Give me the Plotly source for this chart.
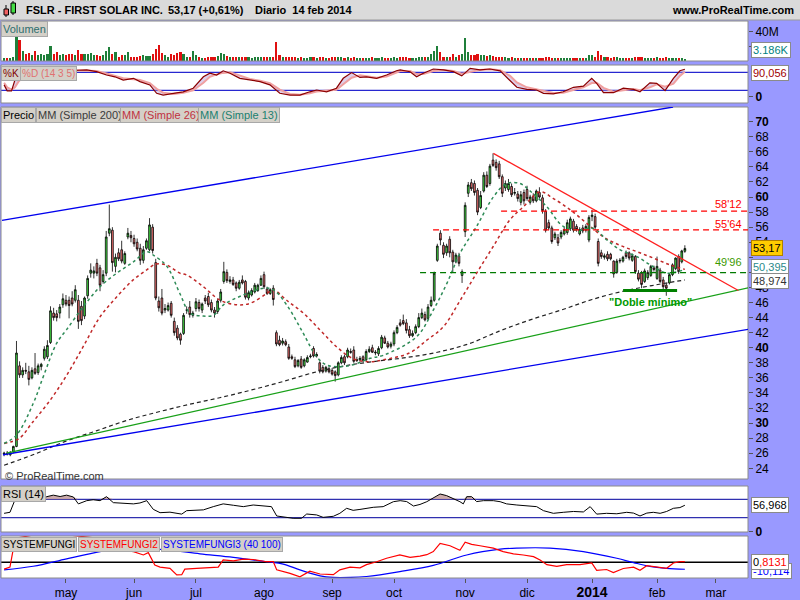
import plotly.graph_objects as go

# ---------------- DATA ----------------
open_ = [25.9, 26.0, 25.8, 26.2, 26.9, 37.6, 36.4, 37.0, 36.8, 36.0,
         37.2, 36.7, 37.5, 38.6, 38.8, 40.7, 44.6, 44.5, 44.6, 45.7,
         46.3, 46.3, 46.6, 46.3, 46.3, 45.5, 44.2, 46.9, 49.9, 49.9,
         51.2, 50.6, 48.8, 49.9, 55.2, 55.6, 50.8, 52.6, 53.0, 51.2,
         54.7, 54.9, 54.5, 54.0, 53.2, 51.6, 53.2, 53.0, 56.0, 51.3,
         46.2, 46.6, 45.0, 45.0, 45.9, 43.5, 42.6, 41.8, 41.9, 45.0,
         45.4, 44.3, 45.2, 46.0, 45.0, 46.6, 46.8, 46.0, 45.0, 44.8,
         46.3, 48.8, 50.0, 48.8, 49.0, 48.6, 47.9, 49.0, 48.8, 46.6,
         47.0, 47.4, 47.6, 48.3, 49.7, 47.8, 47.2, 47.9, 42.0, 41.0,
         40.6, 40.8, 40.1, 38.8, 38.4, 37.6, 38.5, 37.6, 38.1, 38.8,
         39.9, 38.9, 38.0, 37.4, 36.9, 37.2, 37.0, 36.8, 36.4, 38.0,
         38.8, 38.8, 39.5, 39.7, 38.3, 38.4, 38.8, 38.4, 39.5, 40.0,
         39.3, 39.2, 40.0, 41.3, 40.6, 40.2, 40.5, 42.0, 43.3, 43.6,
         43.3, 42.4, 41.6, 42.0, 42.8, 44.0, 44.4, 43.9, 45.6, 46.3,
         51.6, 55.2, 53.6, 52.6, 54.4, 52.7, 51.4, 52.2, 49.6, 55.4,
         60.5, 61.9, 61.8, 60.9, 58.6, 60.8, 62.9, 61.8, 64.9, 64.6,
         64.4, 62.7, 61.2, 61.0, 61.4, 60.5, 60.4, 59.3, 60.6, 61.0,
         59.3, 60.1, 59.5, 60.6, 59.9, 58.1, 56.6, 55.9, 54.6, 54.6,
         54.7, 55.1, 55.3, 55.8, 56.8, 56.1, 55.1, 55.9, 55.6, 54.3,
         57.4, 57.4, 54.1, 52.6, 52.0, 52.4, 52.4, 51.5, 50.0, 51.5,
         51.5, 52.6, 52.6, 51.6, 52.1, 49.9, 49.9, 48.8, 49.3, 49.6,
         50.6, 49.2, 50.3, 49.0, 48.3, 48.6, 49.7, 50.5, 52.1, 51.4,
         52.8]
high = [26.2, 26.3, 26.3, 27.0, 40.9, 38.2, 37.4, 38.0, 37.6, 37.4,
        39.3, 37.9, 38.0, 40.2, 41.0, 45.5, 45.3, 45.0, 45.8, 47.2,
        47.0, 46.8, 47.5, 48.3, 47.0, 46.2, 46.8, 49.6, 51.2, 50.8,
        51.8, 51.0, 50.3, 55.5, 59.0, 56.0, 52.5, 53.2, 54.2, 52.8,
        55.9, 55.5, 55.0, 54.5, 53.8, 53.5, 54.5, 57.2, 56.4, 51.8,
        46.8, 47.8, 45.8, 46.0, 46.2, 44.0, 43.0, 42.0, 44.6, 45.5,
        46.2, 44.9, 46.6, 46.4, 46.0, 47.0, 47.3, 46.4, 45.4, 46.5,
        47.8, 51.4, 50.4, 49.5, 49.4, 48.8, 49.0, 49.6, 49.0, 47.6,
        47.9, 48.6, 48.5, 49.6, 50.1, 48.1, 47.9, 48.3, 42.3, 41.6,
        41.3, 41.1, 40.5, 39.1, 38.8, 38.5, 38.9, 38.6, 39.0, 39.2,
        40.2, 39.4, 38.2, 37.7, 37.6, 37.5, 37.3, 37.0, 38.2, 39.0,
        39.1, 40.0, 39.9, 40.2, 38.8, 38.9, 39.0, 39.8, 40.2, 40.4,
        39.7, 40.2, 41.7, 41.6, 40.9, 40.8, 42.3, 43.0, 43.8, 44.4,
        43.8, 42.9, 42.3, 43.1, 44.6, 45.2, 44.8, 45.8, 46.8, 50.1,
        53.8, 55.6, 54.0, 53.8, 54.8, 53.0, 52.6, 52.6, 50.4, 59.3,
        62.0, 62.4, 62.2, 61.2, 60.8, 63.3, 63.4, 64.4, 65.8, 65.0,
        64.8, 63.0, 62.2, 62.4, 61.8, 61.2, 60.8, 60.8, 61.0, 61.5,
        60.3, 60.5, 61.0, 61.3, 60.3, 58.4, 57.0, 56.2, 55.4, 55.1,
        55.6, 56.0, 57.0, 57.4, 57.1, 56.4, 56.0, 56.3, 56.4, 57.6,
        58.3, 57.8, 54.5, 53.0, 52.5, 52.8, 52.6, 51.6, 51.8, 51.9,
        52.2, 52.9, 52.8, 52.5, 52.3, 50.3, 50.2, 50.5, 50.3, 51.0,
        50.9, 52.1, 50.6, 49.4, 48.6, 49.9, 51.2, 52.0, 52.4, 53.0,
        53.6]
low = [25.6, 25.7, 25.6, 26.0, 26.8, 36.0, 36.0, 36.5, 35.0, 35.8,
       36.4, 36.4, 37.0, 38.3, 38.5, 40.5, 43.6, 43.5, 43.9, 45.3,
       45.5, 43.9, 45.5, 46.0, 42.5, 43.0, 43.8, 46.5, 49.3, 49.2,
       49.5, 47.5, 48.5, 49.5, 54.8, 50.1, 50.0, 51.5, 51.2, 51.0,
       54.4, 54.0, 53.4, 52.8, 51.0, 51.2, 53.0, 52.8, 52.5, 46.3,
       44.8, 44.3, 44.6, 44.8, 44.0, 41.6, 41.0, 40.4, 41.7, 44.5,
       44.0, 44.0, 44.8, 44.8, 44.6, 45.8, 45.4, 44.7, 44.0, 44.5,
       46.0, 48.5, 48.6, 48.5, 48.2, 47.5, 47.7, 48.4, 46.4, 46.3,
       46.8, 47.2, 47.4, 48.2, 47.8, 47.0, 47.0, 45.6, 40.2, 40.2,
       40.3, 40.2, 38.4, 38.4, 37.3, 37.4, 37.2, 37.4, 38.0, 38.6,
       38.7, 38.7, 36.6, 36.6, 36.7, 36.6, 36.3, 35.5, 36.2, 37.8,
       37.7, 38.6, 39.2, 38.0, 38.1, 38.2, 38.1, 38.2, 39.3, 39.3,
       39.0, 38.9, 39.8, 40.5, 39.9, 39.9, 40.2, 41.8, 42.8, 43.0,
       41.9, 41.3, 41.4, 41.8, 42.6, 43.8, 43.5, 43.7, 45.4, 46.1,
       51.4, 53.6, 51.9, 52.2, 52.0, 50.0, 51.2, 50.8, 48.6, 54.7,
       60.0, 60.8, 60.2, 57.6, 58.4, 60.6, 61.2, 61.5, 64.0, 63.5,
       62.4, 60.0, 60.8, 60.7, 60.0, 60.2, 59.4, 58.9, 59.0, 59.5,
       59.0, 59.2, 59.3, 59.8, 57.8, 55.3, 55.6, 53.8, 54.3, 53.5,
       54.4, 54.9, 55.0, 55.5, 55.3, 55.4, 54.9, 55.2, 55.3, 54.0,
       56.8, 55.6, 50.8, 51.8, 51.7, 51.5, 51.6, 49.3, 49.8, 51.2,
       51.3, 51.8, 51.6, 51.4, 49.8, 48.8, 47.9, 48.6, 49.0, 49.4,
       50.1, 49.0, 48.6, 47.8, 46.9, 48.4, 49.5, 50.3, 49.8, 51.2,
       52.6]
close = [26.0, 25.9, 26.1, 26.9, 39.3, 36.4, 37.0, 36.9, 35.8, 37.0,
         36.6, 37.6, 37.8, 39.8, 40.3, 44.9, 44.0, 44.0, 45.4, 46.5,
         45.8, 45.6, 45.8, 47.7, 43.5, 43.6, 46.6, 49.2, 50.3, 50.2,
         49.9, 48.3, 49.7, 54.7, 55.8, 51.3, 52.0, 51.8, 51.5, 52.5,
         55.2, 54.6, 53.8, 53.1, 51.6, 53.0, 54.2, 56.3, 52.9, 46.6,
         45.3, 44.6, 45.2, 45.6, 44.3, 42.0, 41.3, 41.0, 44.3, 45.0,
         44.4, 44.6, 46.1, 45.2, 45.8, 46.2, 45.7, 45.0, 44.6, 46.2,
         47.4, 50.1, 48.9, 49.0, 48.4, 47.9, 48.7, 48.6, 46.7, 47.3,
         47.6, 48.3, 48.3, 49.2, 48.1, 47.2, 47.7, 46.4, 40.5, 40.4,
         40.9, 40.4, 38.6, 38.6, 37.5, 38.3, 37.4, 38.4, 38.7, 38.9,
         38.9, 39.1, 36.9, 36.8, 37.4, 36.8, 36.5, 36.3, 38.0, 38.7,
         38.0, 39.7, 39.4, 38.2, 38.4, 38.6, 38.3, 39.5, 39.8, 39.4,
         39.4, 39.9, 41.4, 40.6, 40.1, 40.5, 42.0, 42.7, 43.0, 43.2,
         42.3, 41.6, 41.9, 42.8, 44.0, 44.6, 43.7, 45.4, 46.3, 49.9,
         53.5, 54.3, 52.4, 53.5, 52.6, 51.4, 52.3, 51.2, 50.1, 58.9,
         61.6, 61.1, 60.6, 58.0, 60.2, 62.9, 61.4, 64.1, 64.2, 63.9,
         62.7, 60.5, 61.8, 61.8, 60.3, 60.6, 59.8, 60.3, 59.5, 59.8,
         60.0, 59.5, 60.8, 60.0, 58.2, 55.6, 55.9, 54.1, 55.1, 53.9,
         55.3, 55.7, 56.6, 57.1, 55.6, 55.7, 55.7, 55.5, 56.1, 57.3,
         57.6, 56.0, 51.2, 52.1, 52.2, 51.8, 51.8, 49.8, 51.5, 51.6,
         52.0, 52.1, 51.9, 52.2, 50.1, 49.1, 48.4, 50.2, 50.0, 50.8,
         50.4, 50.8, 48.8, 48.1, 47.9, 49.7, 51.0, 51.9, 50.1, 52.85,
         53.17]
volume_m = [4.0, 3.5, 4.0, 5.0, 35.0, 29.0, 14.0, 10.0, 11.0, 8.0,
            13.0, 8.0, 10.0, 8.0, 9.0, 21.0, 10.0, 12.0, 8.0, 10.0,
            8.0, 10.0, 9.0, 8.0, 15.0, 9.0, 9.0, 10.0, 11.0, 8.0,
            8.0, 7.0, 8.0, 13.0, 19.0, 10.0, 12.0, 6.0, 8.0, 8.0,
            12.0, 6.0, 5.0, 6.0, 7.0, 8.0, 7.0, 7.0, 10.0, 16.0,
            22.0, 11.0, 8.0, 6.0, 10.0, 8.0, 11.0, 12.0, 10.0, 6.0,
            5.0, 14.0, 8.0, 5.0, 4.0, 4.0, 5.0, 6.0, 5.0, 7.0,
            11.0, 9.0, 7.0, 5.0, 5.0, 5.0, 5.0, 6.0, 5.0, 5.0,
            4.0, 5.0, 5.0, 6.0, 5.0, 5.0, 5.0, 6.0, 26.0, 8.0,
            5.0, 6.0, 5.0, 5.0, 5.0, 4.5, 5.0, 4.0, 4.5, 5.0,
            5.5, 4.0, 6.0, 5.0, 4.5, 4.0, 5.0, 5.5, 6.0, 5.0,
            4.5, 5.0, 4.0, 5.0, 4.0, 3.5, 4.0, 4.5, 4.0, 5.0,
            4.0, 4.5, 5.0, 4.0, 4.0, 3.5, 5.0, 4.5, 5.0, 5.5,
            5.0, 4.5, 4.0, 4.5, 5.0, 5.5, 5.0, 6.0, 10.0, 14.0,
            21.0, 12.0, 6.0, 5.0, 6.0, 10.0, 5.0, 8.0, 10.0, 32.0,
            12.0, 8.0, 8.0, 9.0, 8.0, 8.0, 7.0, 8.0, 7.0, 6.0,
            5.0, 6.0, 5.0, 4.5, 5.0, 4.0, 4.5, 4.0, 3.5, 4.0,
            3.5, 4.0, 4.0, 3.5, 4.5, 5.0, 5.0, 4.5, 4.0, 3.5,
            4.0, 3.5, 4.0, 4.5, 4.0, 3.5, 4.0, 3.5, 4.0, 8.0,
            8.0, 6.0, 14.0, 8.0, 6.0, 5.0, 4.5, 6.0, 5.0, 4.5,
            4.0, 4.5, 4.0, 4.5, 5.0, 5.5, 5.0, 4.5, 4.0, 4.5,
            4.0, 5.0, 4.5, 4.0, 5.0, 4.5, 4.0, 4.5, 4.0, 4.5,
            3.186]

sma200_x = [0, 10, 20, 30, 40, 50, 60, 70, 80, 90, 100, 110, 120, 130, 140, 150, 160, 170, 180, 190, 200, 210, 220]
sma200_v = [24.4, 25.9, 27.6, 29.0, 30.4, 31.5, 32.5, 33.4, 34.4, 35.5, 36.7, 37.6, 38.2, 38.7, 39.4, 40.5, 42.2, 43.7, 45.0, 46.4, 47.5, 48.3, 49.0]

sma26_x = [0, 5, 9, 15, 20, 25.5, 31, 36.5, 41.7, 46, 49, 52.6, 56.8, 59, 64.4, 69.8, 75.2, 79.5, 84.9, 87, 91.3, 96.7, 102, 107.5, 113, 118.3, 122.5, 131, 136.6, 142, 147.4, 152.7, 158, 163.5, 167.8, 173.2, 177.5, 183, 188.3, 193.7, 199, 204.5, 209.8, 215.2, 220]
sma26_v = [27.3, 28.0, 30.0, 33.1, 36.2, 40.1, 44.1, 46.8, 49.0, 50.3, 51.1, 50.95, 49.9, 49.65, 48.1, 46.3, 45.7, 45.9, 47.2, 47.7, 46.3, 44.6, 42.4, 40.1, 38.5, 38.15, 38.4, 39.3, 41.0, 42.8, 46.3, 49.9, 53.4, 57.0, 58.7, 60.7, 59.8, 58.3, 56.5, 54.7, 53.6, 52.75, 51.9, 51.0, 50.4]

sma13_x = [0, 4, 9.4, 12.7, 17, 20.2, 25.6, 31, 36.4, 41.8, 46.1, 48.2, 52.6, 56.8, 60.1, 64.3, 67.6, 70.9, 77.3, 83.8, 87, 91.3, 96.7, 101, 104.3, 109.6, 114, 118.3, 122.6, 133.4, 138.7, 143.1, 147.3, 152.7, 158.1, 162.4, 166.7, 170, 175.4, 180.7, 186.1, 190.4, 194.8, 199.1, 204.5, 209.8, 214.2, 220]
sma13_v = [27.3, 28.4, 32.6, 36.2, 40.6, 42.4, 45.45, 48.1, 49.9, 51.4, 52.75, 52.3, 50.8, 47.2, 44.6, 44.2, 44.3, 45.7, 47.0, 47.9, 47.7, 45.7, 41.9, 38.8, 37.7, 37.5, 37.9, 38.6, 39.0, 41.5, 45.0, 48.55, 52.5, 56.1, 60.0, 61.8, 61.8, 60.8, 58.7, 56.1, 55.6, 55.85, 54.3, 53.0, 52.1, 50.75, 49.9, 50.4]

stoch_x = [0, 1, 2.4, 3.5, 4.6, 7, 12, 17, 22, 26.7, 29.9, 33.1, 35.8, 38.5, 41.8, 43.9, 47.1, 49.3, 51.4, 54.7, 57.9, 61.1, 64.4, 66.5, 68.7, 70.8, 73, 76.2, 79.4, 82.7, 85.9, 89.1, 92.4, 95.6, 98.8, 101, 104.2, 107.4, 109.6, 112.3, 115, 117.1, 120.4, 123.6, 126.8, 128, 131.2, 133.3, 135.5, 138.7, 142, 145.2, 147.9, 150.6, 153.8, 157, 160.3, 163.5, 165.7, 168.9, 172.1, 174.3, 177.5, 180.7, 184, 187.2, 189.9, 191.5, 193.7, 196.9, 200.1, 203.4, 205.5, 208.7, 210.9, 213.6, 216.3, 218.4, 220]
stoch_k = [38, 18, 18, 54, 71, 88, 92, 90, 86, 88, 82, 71, 65, 54, 60, 49, 38, 10, 4, 10, 15, 27, 65, 77, 71, 85, 77, 60, 54, 49, 38, 10, 4, 4, 15, 21, 15, 27, 60, 79, 63, 65, 60, 71, 85, 88, 82, 65, 77, 91, 88, 82, 68, 93, 88, 91, 85, 54, 30, 23, 21, 10, 8, 15, 30, 34, 60, 43, 12, 12, 27, 23, 15, 45, 43, 19, 60, 85, 90]
stoch_d = [45, 30, 22, 30, 48, 75, 88, 90, 87, 86, 84, 76, 68, 60, 57, 54, 44, 25, 12, 8, 12, 20, 45, 65, 73, 78, 80, 68, 58, 52, 44, 22, 8, 5, 10, 16, 18, 22, 40, 62, 70, 66, 62, 66, 78, 84, 84, 74, 74, 84, 88, 84, 75, 82, 88, 90, 87, 68, 46, 30, 23, 16, 11, 12, 22, 30, 44, 45, 28, 15, 20, 24, 20, 30, 40, 32, 42, 68, 82]

rsi_x = [0, 1.9, 3.5, 4.1, 7.3, 10.5, 13.8, 15.9, 18.1, 20.2, 22.4, 24, 26.7, 28.8, 31, 33.1, 35.3, 38.5, 41.8, 43.9, 46.1, 48.2, 50.4, 53.6, 55.8, 57.4, 59, 62.2, 64.4, 67.6, 70.8, 74.1, 77.3, 80.5, 83.8, 86.4, 88.1, 91.3, 93.4, 96.1, 97.8, 101, 103.1, 106.4, 108.5, 110.7, 112.8, 115, 117.1, 119.3, 122.5, 125.8, 128, 130.1, 132.3, 134.4, 136.6, 138.7, 140.9, 143, 145.2, 147.3, 148.4, 149.5, 151.1, 152.7, 154.9, 158.1, 160.3, 162.4, 165.7, 168.9, 172.1, 174.3, 177.5, 180.7, 184, 187.2, 189.4, 191.5, 194.7, 198, 201.2, 203.4, 205.5, 207.7, 209.8, 212, 214.1, 216.3, 218.4, 220]
rsi_v = [39.5, 41.7, 68.5, 70, 67, 69, 75.7, 79, 76, 79, 75, 60, 67, 69, 67, 75.7, 62.7, 61.6, 60, 62, 67, 48.2, 40.9, 42, 39.5, 37.8, 45.3, 46, 47, 54, 60, 57, 54, 57.6, 56, 54, 33.7, 30.8, 28.7, 28.7, 38, 36, 30.8, 33, 39.5, 50.4, 46, 48, 50.4, 52.6, 54, 64.8, 67, 65, 55.4, 58.8, 64.8, 72.2, 81.5, 78, 72, 64.8, 60, 75.7, 75.7, 65, 67, 67, 64.8, 60, 57.6, 55.4, 54, 45.3, 39.5, 41.7, 43.5, 42.5, 54, 37.8, 39.5, 38.5, 41.7, 40, 33.7, 40, 41.7, 39.5, 43.5, 50.4, 52, 57]

fungi2_x = [0, 1.9, 3, 4, 10, 20, 30, 36, 37.4, 41.8, 45, 46.6, 48.7, 50.4, 53.6, 55.8, 57.4, 58.4, 62.2, 66.5, 69.2, 70.8, 74.1, 77.3, 80.5, 84.8, 87, 88.1, 92.4, 95.6, 98.8, 102.1, 106.4, 108.5, 111.8, 115, 117.1, 120.4, 123.6, 127.9, 131.2, 134.4, 136.6, 138.7, 140.9, 144.1, 147.3, 149, 151.1, 153.8, 158.1, 161.3, 164.6, 167.8, 171.1, 173.2, 175.4, 178.6, 181.8, 186.1, 189.9, 191.5, 194.7, 196.9, 200.1, 203.4, 205.5, 207.7, 210.9, 214.1, 216.3, 218.4, 220]
fungi2_v = [-10, -7, 20, 35, 40, 40, 35, 25, 18, 15.5, 10.6, 14, -4, -7, -8.7, -18.4, -18, -10, -8.7, -7, -7, 3.4, 2, 4.5, 4, 0.8, 0.8, -11, -16, -21, -13, -17, -18, -11, -7, -8, -3.4, 0.8, 5.8, 10.6, 7.2, 9, 11, 15.5, 27.5, 24, 17.5, 29, 26, 24, 20.6, 15.5, 12.3, 10.6, 8.2, 3.4, -3.4, -5.8, -3.5, -3.5, -1, -11.6, -10.5, -15, -9, -7, -11.6, -5, -7, -8.7, -1, 0.8, 0.8131]

fungi3_x = [0, 9.4, 20.2, 31, 34.2, 42, 52.5, 63.3, 74.1, 84.8, 90.2, 95.6, 102.1, 106.4, 111.8, 117.1, 127.9, 138.7, 149.5, 160.3, 165.7, 176.4, 187.2, 198, 203.4, 208.7, 214.1, 220]
fungi3_v = [-11, -5.8, 5, 15.5, 18, 21, 18, 12.3, 7.2, 0.8, -2.6, -11, -19.7, -22, -22, -20.6, -13.5, -4.5, 10.6, 19, 20.6, 20.6, 15.5, 5.8, -0.5, -6, -8.7, -10.114]

month_pos = [20, 42, 62, 84, 106, 126, 149, 169, 190, 211, 230]
month_labels = ["may", "jun", "jul", "ago", "sep", "oct", "nov", "dic",
                "<span style='font-size:14px'><b>2014</b></span>", "feb", "mar"]

price_ticks = list(range(24, 74, 2))
price_hidden = [50, 52]  # labels covered by the value boxes in the original
level_58 = 58.12
level_55 = 55.64
level_50 = 49.96

# ---------------- LAYOUT HELPERS ----------------
W, H = 800, 600
ML, MR, MT, MB = 1, 52, 20, 22
PW = W - ML - MR
PH = H - MT - MB


def dom(top, bot):
    return [(H - MB - bot) / PH, (H - MB - top) / PH]


def px(x):
    return (x - ML) / PW


def py(y):
    return (H - MB - y) / PH


def xi(pixel):
    return (pixel - 4.1) / 3.094


def price_label(t):
    if t in price_hidden:
        return ""
    return ("<b>%d</b>" % t) if t % 10 == 0 else str(t)


FONT = "Liberation Sans, Arial, sans-serif"
idx = list(range(len(close)))

fig = go.Figure()

# Volume
vol_colors = ["#1f7f3a" if c >= o else "#e01010" for o, c in zip(open_, close)]
fig.add_trace(go.Bar(x=idx, y=[v * 1e6 for v in volume_m], marker_color=vol_colors,
                     marker_line_width=0, width=0.7, yaxis="y5", showlegend=False))

# Stochastic
fig.add_trace(go.Scatter(x=stoch_x, y=stoch_d, yaxis="y4", mode="lines",
                         line=dict(color="#f0a0a0", width=2), showlegend=False))
fig.add_trace(go.Scatter(x=stoch_x, y=stoch_k, yaxis="y4", mode="lines", fill="tonexty",
                         fillcolor="rgba(180,150,210,0.45)",
                         line=dict(color="#8b0000", width=1.2), showlegend=False))

# Moving averages
fig.add_trace(go.Scatter(x=sma200_x, y=sma200_v, yaxis="y3", mode="lines", line_shape="spline",
                         line=dict(color="#222222", width=1.2, dash="4px,3px"), showlegend=False))
fig.add_trace(go.Scatter(x=sma26_x, y=sma26_v, yaxis="y3", mode="lines", line_shape="spline",
                         line=dict(color="#c02828", width=1.5, dash="3px,3px"), showlegend=False))
fig.add_trace(go.Scatter(x=sma13_x, y=sma13_v, yaxis="y3", mode="lines", line_shape="spline",
                         line=dict(color="#2e8b57", width=1.5, dash="3px,3px"), showlegend=False))

# Candles
fig.add_trace(go.Candlestick(x=idx, open=open_, high=high, low=low, close=close, yaxis="y3",
                             increasing=dict(fillcolor="#44dd44", line=dict(color="#000000", width=0.8)),
                             decreasing=dict(fillcolor="#f07070", line=dict(color="#000000", width=0.8)),
                             whiskerwidth=0, showlegend=False))

# RSI
rsi_top = [max(v, 70) for v in rsi_v]
fig.add_trace(go.Scatter(x=rsi_x, y=[70] * len(rsi_x), yaxis="y2", mode="lines",
                         line=dict(width=0, color="rgba(0,0,0,0)"), showlegend=False))
fig.add_trace(go.Scatter(x=rsi_x, y=rsi_top, yaxis="y2", mode="lines", fill="tonexty",
                         fillcolor="rgba(190,150,150,0.8)", line=dict(width=0, color="rgba(0,0,0,0)"),
                         showlegend=False))
fig.add_trace(go.Scatter(x=rsi_x, y=rsi_v, yaxis="y2", mode="lines",
                         line=dict(color="#000000", width=1), showlegend=False))

# SYSTEMFUNGI
fig.add_trace(go.Scatter(x=fungi3_x, y=fungi3_v, yaxis="y", mode="lines", line_shape="spline",
                         line=dict(color="#0000ff", width=1.2), showlegend=False))
fig.add_trace(go.Scatter(x=fungi2_x, y=fungi2_v, yaxis="y", mode="lines",
                         line=dict(color="#ff0000", width=1.2), showlegend=False))

shapes = []
# panel borders
for ax in ["y", "y2", "y3", "y4", "y5"]:
    shapes.append(dict(type="rect", xref="paper", yref=ax + " domain", x0=0, x1=1, y0=0, y1=1,
                       line=dict(color="#8a8a8a", width=1), layer="above"))
# reference lines
for v in [80, 20]:
    shapes.append(dict(type="line", xref="paper", yref="y4", x0=0, x1=1, y0=v, y1=v,
                       line=dict(color="#2828d0", width=1.2), layer="below"))
for v in [70, 30]:
    shapes.append(dict(type="line", xref="paper", yref="y2", x0=0, x1=1, y0=v, y1=v,
                       line=dict(color="#3030b0", width=1.2), layer="below"))
shapes.append(dict(type="line", xref="paper", yref="y", x0=0, x1=1, y0=0, y1=0,
                   line=dict(color="#000000", width=1.5), layer="below"))

# trend lines
shapes.append(dict(type="line", xref="x", yref="y3", x0=xi(2), y0=56.9, x1=xi(673), y1=71.95,
                   line=dict(color="#0000ee", width=1.3)))
shapes.append(dict(type="line", xref="x", yref="y3", x0=xi(3), y0=25.8, x1=xi(748), y1=42.45,
                   line=dict(color="#0000ee", width=1.3)))
shapes.append(dict(type="line", xref="x", yref="y3", x0=xi(6.7), y0=26.0, x1=xi(748), y1=47.95,
                   line=dict(color="#18a018", width=1.3)))
shapes.append(dict(type="line", xref="x", yref="y3", x0=xi(493.3), y0=65.8, x1=xi(738.3), y1=47.6,
                   line=dict(color="#ff2020", width=1.3)))
# horizontal levels
shapes.append(dict(type="line", xref="x", yref="y3", x0=xi(501), y0=level_58, x1=xi(748), y1=level_58,
                   line=dict(color="#ff0000", width=1.2, dash="6px,4px")))
shapes.append(dict(type="line", xref="x", yref="y3", x0=xi(433), y0=level_55, x1=xi(748), y1=level_55,
                   line=dict(color="#ff0000", width=1.2, dash="6px,4px")))
shapes.append(dict(type="line", xref="x", yref="y3", x0=xi(420), y0=level_50, x1=xi(748), y1=level_50,
                   line=dict(color="#007a00", width=1.2, dash="6px,4px")))
# double bottom bar
shapes.append(dict(type="line", xref="x", yref="y3", x0=xi(623), y0=47.6, x1=xi(677), y1=47.6,
                   line=dict(color="#008000", width=3)))

# header bar
shapes.append(dict(type="rect", xref="paper", yref="paper", x0=px(0), x1=px(800), y0=py(20), y1=py(0),
                   fillcolor="#dadada", line=dict(width=0), layer="below"))
shapes.append(dict(type="line", xref="paper", yref="paper", x0=px(0), x1=px(800), y0=py(20), y1=py(20),
                   line=dict(color="#9a9a9a", width=1)))
# little candle icon
shapes.append(dict(type="line", xref="paper", yref="paper", x0=px(6), x1=px(6), y0=py(17), y1=py(5),
                   line=dict(color="#000", width=1)))
shapes.append(dict(type="rect", xref="paper", yref="paper", x0=px(4), x1=px(8.5), y0=py(15), y1=py(9),
                   fillcolor="#f06060", line=dict(color="#000", width=1)))
shapes.append(dict(type="line", xref="paper", yref="paper", x0=px(13), x1=px(13), y0=py(15), y1=py(1),
                   line=dict(color="#000", width=1)))
shapes.append(dict(type="rect", xref="paper", yref="paper", x0=px(11), x1=px(15.5), y0=py(13), y1=py(3),
                   fillcolor="#44dd44", line=dict(color="#000", width=1)))

ann = []


def label_box(text, xl, yt, color, size=11):
    ann.append(dict(text=text, xref="paper", yref="paper", x=px(xl), y=py(yt), xanchor="left",
                    yanchor="top", showarrow=False, font=dict(family=FONT, size=size, color=color),
                    bgcolor="#d4d0c8", bordercolor="#a8a8a8", borderwidth=1, borderpad=1))


def value_box(text, yc, color, bg="#ffffff", border="#8a8a8a"):
    ann.append(dict(text=text, xref="paper", yref="paper", x=px(751), y=py(yc), xanchor="left",
                    yanchor="middle", showarrow=False, font=dict(family=FONT, size=11, color=color),
                    bgcolor=bg, bordercolor=border, borderwidth=1, borderpad=1))


label_box("Volumen", 1, 21, "#2e6e6e")
label_box("%K", 1, 66, "#800000", size=10)
label_box("%D (14 3 5)", 20, 66, "#e07070", size=10)
label_box("Precio", 1, 107, "#000000")
label_box("MM (Simple 200)", 36, 107, "#3a3a3a")
label_box("MM (Simple 26)", 120, 107, "#c03040")
label_box("MM (Simple 13)", 198, 107, "#208070")
label_box("RSI (14)", 1, 486, "#000000")
label_box("SYSTEMFUNGI", 1, 537, "#000000", size=10)
label_box("SYSTEMFUNGI2", 78, 537, "#ff0000", size=10)
label_box("SYSTEMFUNGI3 (40 100)", 161, 537, "#0000ff", size=10)

value_box("3.186K", 50, "#008080")
value_box("90,056", 73, "#a00000")
value_box("53,17", 248, "#000000", bg="#ffcc00", border="#b08000")
value_box("50,395", 267, "#2a8a8a")
value_box("48,974", 281, "#333333")
value_box("56,968", 505, "#000000")
value_box("-10,114", 571, "#0000ff")
value_box("<span style='color:black'>0</span>,8131", 562, "#ff0000")

# header texts
hdr_font = dict(family=FONT, size=11, color="#000000")
for txt, xl in [("<b>FSLR - FIRST SOLAR INC.</b>", 24), ("<b>53,17 (+0,61%)</b>", 166),
                ("<b>Diario  14 feb 2014</b>", 253)]:
    ann.append(dict(text=txt, xref="paper", yref="paper", x=px(xl), y=py(10), xanchor="left",
                    yanchor="middle", showarrow=False, font=hdr_font))
ann.append(dict(text="<b>www.ProRealTime.com</b>", xref="paper", yref="paper", x=px(796), y=py(10),
                xanchor="right", yanchor="middle", showarrow=False, font=hdr_font))

# chart texts
ann.append(dict(text="58'12", xref="x", yref="y3", x=xi(728), y=59.08, showarrow=False,
                font=dict(family=FONT, size=11, color="#ff0000")))
ann.append(dict(text="55'64", xref="x", yref="y3", x=xi(728), y=56.42, showarrow=False,
                font=dict(family=FONT, size=11, color="#ff0000")))
ann.append(dict(text="49'96", xref="x", yref="y3", x=xi(728), y=51.38, showarrow=False,
                font=dict(family=FONT, size=11, color="#3c9a00")))
ann.append(dict(text="<b>\"Doble mínimo\"</b>", xref="x", yref="y3", x=xi(650), y=46.07, showarrow=False,
                font=dict(family=FONT, size=11, color="#009900")))
ann.append(dict(text="© ProRealTime.com", xref="paper", yref="paper", x=px(3), y=py(476),
                xanchor="left", yanchor="middle", showarrow=False,
                font=dict(family=FONT, size=11, color="#333333")))

axis_common = dict(anchor="x", side="right", showgrid=False, zeroline=False, showline=False,
                   ticks="outside", ticklen=4, tickcolor="#555555",
                   tickfont=dict(family=FONT, size=12, color="#000000"), fixedrange=True)

fig.update_layout(
    width=W, height=H,
    margin=dict(l=ML, r=MR, t=MT, b=MB),
    paper_bgcolor="#9999ff",
    plot_bgcolor="#ffffff",
    showlegend=False,
    bargap=0,
    boxgap=0.2,
    xaxis=dict(range=[-1.0, 240.4], anchor="y", showgrid=False, zeroline=False, showline=False,
               tickvals=month_pos, ticktext=month_labels, ticks="outside", ticklen=4,
               tickcolor="#555555", tickfont=dict(family=FONT, size=12, color="#000000"),
               rangeslider=dict(visible=False), fixedrange=True),
    yaxis=dict(domain=dom(536, 578), range=[-22.8, 38.1], tickvals=[], **axis_common),
    yaxis2=dict(domain=dom(486, 532), range=[-1.1, 98.9], tickvals=[0], ticktext=["<b>0</b>"],
                **axis_common),
    yaxis3=dict(domain=dom(107, 479), range=[22.58, 71.95], tickvals=price_ticks,
                ticktext=[price_label(t) for t in price_ticks], **axis_common),
    yaxis4=dict(domain=dom(65, 103), range=[-22.3, 104.3], tickvals=[0], ticktext=["<b>0</b>"],
                **axis_common),
    yaxis5=dict(domain=dom(21, 61), range=[0, 54.6e6], tickvals=[20e6, 40e6],
                ticktext=["20M", "40M"], **axis_common),
    shapes=shapes,
    annotations=ann,
)

fig.write_html("out.html", config={"displayModeBar": False},
               post_script="document.body.style.margin='0';document.body.style.padding='0';"
                           "document.body.style.overflow='hidden';")
